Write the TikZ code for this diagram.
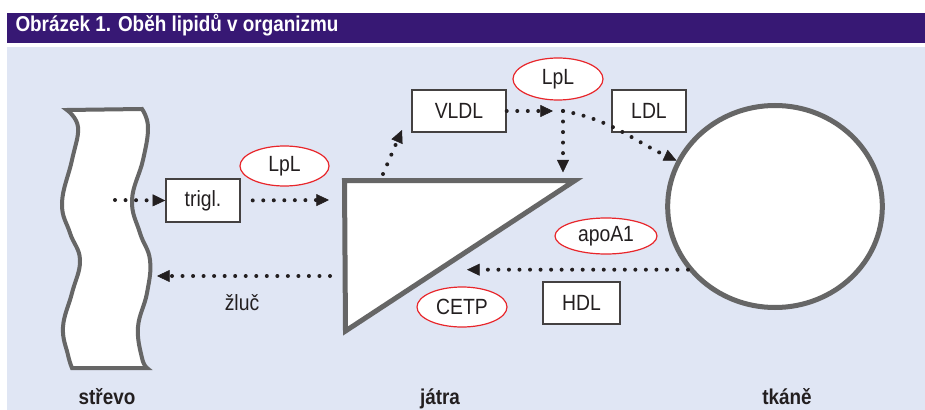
\documentclass[tikz,border=0pt]{standalone}
\usepackage{fontspec}
\setmainfont{Liberation Sans}[FakeStretch=0.88]
\usetikzlibrary{arrows.meta,shapes.geometric}

\definecolor{titul}{RGB}{55,24,116}
\definecolor{pozadi}{RGB}{224,230,244}
\definecolor{obrys}{RGB}{102,102,102}
\definecolor{cervena}{RGB}{232,38,43}
\definecolor{inkoust}{RGB}{35,31,32}

\tikzset{every picture/.style={line width=0.75pt}}
\tikzset{
  pismo/.style={text=inkoust, font=\fontsize{16.5}{19}\selectfont},
  box/.style={pismo, draw=inkoust!85, line width=1.1pt, fill=white, inner sep=0pt, minimum height=31.5pt},
  enzym/.style={pismo, ellipse, draw=cervena, line width=0.9pt, fill=white, inner sep=0pt},
  organ/.style={draw=obrys, line width=3.75pt, fill=white},
  flow/.style={draw=inkoust, line width=3pt, line cap=round, dash pattern=on 0pt off 7.9pt,
    -{Triangle[length=9.5pt,width=9pt,line width=0.4pt]}},
  popisek/.style={text=inkoust, font=\bfseries\fontsize{16.1}{19}\selectfont, inner sep=0pt, anchor=base}
}

\begin{document}
\begin{tikzpicture}[x=0.75pt,y=0.75pt,yscale=-1,xscale=1]
\useasboundingbox (0,0) rectangle (925,410);

%Background
\fill [white] (0,0) rectangle (925,410);
\fill [pozadi] (7,47) rectangle (925,410);
\fill [titul] (7,13) rectangle (925,43);
% Title
\node (titulek) [anchor=base west, inner sep=0pt, text=white, font=\bfseries\fontsize{16.1}{19}\selectfont] at (15,32) {Obrázek 1. Oběh lipidů v organizmu};

%Shape: intestine
\draw [organ, line width=3pt] plot [smooth, tension=0.7] coordinates {(67,110) (78,127) (72,160) (62,203) (70,233) (80,260) (72,293) (63,327) (68,355) (72,368)}
  -- plot [smooth, tension=0.7] coordinates {(147,368) (142,358) (138,327) (147,293) (150,260) (140,233) (132,200) (143,160) (148,127) (142,109)} -- cycle ;

%Shape: liver
\coordinate (jatraA) at (344.5,180.5);
\coordinate (jatraB) at (575,180.5);
\coordinate (jatraC) at (345.5,331);
\draw [organ, line join=miter] (jatraA) -- (jatraB) -- (jatraC) -- cycle ;

%Shape: tissue
\node (tkane) [organ, ellipse, minimum width=161pt, minimum height=151.5pt, inner sep=0pt] at (775,206.5) {};

%Free ends of the connectors
\coordinate (strevoin) at (115,200);
\coordinate (jatraL) at (329,200);
\coordinate (jatraZ) at (330,276);
\coordinate (strevoZ) at (157,276);
\coordinate (jatraT) at (383,174);
\coordinate (vldlin) at (402,130);
\coordinate (lplbod) at (563,111);
\coordinate (jatraH) at (467,269);

% Boxes
\node (trigl) [box, minimum width=55.5pt, minimum height=32pt] at (203,200.5) {trigl.};
\node (vldl) [box, minimum width=70.5pt] at (459,111) {VLDL};
\node (ldl) [box, minimum width=55.5pt] at (649,111) {LDL};
\node (hdl) [box, minimum width=57.75pt] at (581.5,303) {HDL};
% Enzymes
\node (lpl) [enzym, minimum width=66.75pt, minimum height=30pt] at (284.5,166) {LpL};
\node (lplb) [enzym, minimum width=67.5pt, minimum height=31.5pt] at (558,79) {LpL};
\node (apoa) [enzym, minimum width=76.5pt, minimum height=27pt] at (606,236) {apoA1};
\node (cetp) [enzym, minimum width=67.5pt, minimum height=30pt] at (462,307) {CETP};

%Dotted arrows
\draw [flow] (strevoin) -- (trigl.west) ;
\draw [flow, shorten <=9pt] (trigl.east) -- (jatraL) ;
\draw [flow] (jatraZ) -- (strevoZ) ;
\draw [flow] (jatraT) -- (vldlin) ;
\draw [flow, shorten >=7.5pt] (vldl.east) -- (lplbod) ;
\draw [flow, shorten >=6pt] (lplbod) -- (lplbod |- jatraA) ;
\draw [flow] (lplbod) to [out=10,in=205] (tkane.155) ;
\draw [flow] (tkane.216) -- (tkane.216 -| jatraH) ;

% Text Node
\node (zluc) [pismo, anchor=base, inner sep=0pt] at (242,310) {žluč};
% Text Node
\node (strevo) [popisek] at (107,404) {střevo};
% Text Node
\node (jatra) [popisek] at (440,404) {játra};
% Text Node
\node (tkanelbl) [popisek] at (787,404) {tkáně};

\end{tikzpicture}
\end{document}
